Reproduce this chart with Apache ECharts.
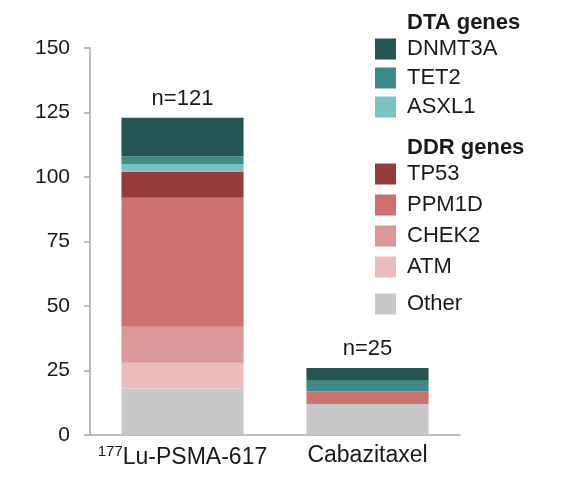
<!DOCTYPE html>
<html>
<head>
<meta charset="utf-8">
<script src="https://cdn.jsdelivr.net/npm/echarts@6/dist/echarts.min.js"></script>
<style>
html,body{margin:0;padding:0;background:#fff;}
#c{width:562px;height:484px;}
</style>
</head>
<body>
<div id="c"></div>
<script>
// Data
var categories = ['177Lu-PSMA-617', 'Cabazitaxel'];
var totalLabels = ['n=121', 'n=25'];
var yTicks = [0, 25, 50, 75, 100, 125, 150];

var other  = [18, 12];
var atm    = [10, 0];
var chek2  = [14, 0];
var ppm1d  = [50, 5];
var tp53   = [10, 0];
var asxl1  = [3, 0];
var tet2   = [3, 4];
var dnmt3a = [15, 5];

var dtaNames = ['DNMT3A', 'TET2', 'ASXL1'];
var ddrNames = ['TP53', 'PPM1D', 'CHEK2', 'ATM'];
var otherNames = ['Other'];

var colors = {
  DNMT3A: '#245553',
  TET2: '#3c8b89',
  ASXL1: '#7bc3c3',
  TP53: '#933c3b',
  PPM1D: '#cc7170',
  CHEK2: '#da9898',
  ATM: '#ebbcbc',
  Other: '#c8c8c8'
};

var stackOrder = [
  ['Other', other], ['ATM', atm], ['CHEK2', chek2], ['PPM1D', ppm1d],
  ['TP53', tp53], ['ASXL1', asxl1], ['TET2', tet2], ['DNMT3A', dnmt3a]
];

var FONT = 'Liberation Sans, Arial, sans-serif';
var TXT = '#1a1a1a';

var series = stackOrder.map(function (s) {
  var o = {
    name: s[0],
    type: 'bar',
    stack: 'total',
    barWidth: '66%',
    data: s[1],
    itemStyle: { color: colors[s[0]] },
    emphasis: { disabled: true }
  };
  if (s[0] === 'DNMT3A') {
    o.label = {
      show: true,
      position: 'top',
      distance: 8,
      fontFamily: FONT,
      fontSize: 22,
      color: TXT,
      formatter: function (p) { return totalLabels[p.dataIndex]; }
    };
  }
  return o;
});

function legendCfg(names, top, gap) {
  return {
    orient: 'vertical',
    left: 375,
    top: top,
    padding: 0,
    itemWidth: 21,
    itemHeight: 21,
    itemGap: gap,
    icon: 'rect',
    selectedMode: false,
    data: names,
    textStyle: { fontFamily: FONT, fontSize: 22, color: TXT, padding: [0, 0, 0, 6] }
  };
}

var chart = echarts.init(document.getElementById('c'), null, { renderer: 'canvas' });
chart.setOption({
  animation: false,
  backgroundColor: '#fff',
  grid: { left: 90, right: 102, top: 48, bottom: 49, containLabel: false },
  legend: [
    legendCfg(dtaNames, 38, 7),
    legendCfg(ddrNames, 163, 9),
    legendCfg(otherNames, 293, 7)
  ],
  graphic: [
    { type: 'text', left: 407, top: 12, style: { text: 'DTA genes', font: 'bold 22px ' + FONT, fill: TXT } },
    { type: 'text', left: 407, top: 137, style: { text: 'DDR genes', font: 'bold 22px ' + FONT, fill: TXT } }
  ],
  xAxis: {
    type: 'category',
    data: categories,
    axisLine: { lineStyle: { color: '#a6a6a6', width: 1.5 } },
    axisTick: { show: false },
    axisLabel: {
      interval: 0,
      hideOverlap: false,
      margin: 9,
      color: TXT,
      fontFamily: FONT,
      formatter: function (v) {
        if (v.indexOf('177') === 0) return '{sup|177}{main|' + v.slice(3) + '}';
        return '{main|' + v + '}';
      },
      rich: {
        sup: { fontSize: 15, fontFamily: FONT, color: TXT, padding: [0, 0, 12, 0] },
        main: { fontSize: 23, fontFamily: FONT, color: TXT }
      }
    }
  },
  yAxis: {
    type: 'value',
    min: yTicks[0],
    max: yTicks[yTicks.length - 1],
    interval: 25,
    axisLine: { show: true, lineStyle: { color: '#a6a6a6', width: 1.5 } },
    axisTick: { show: true, length: 6, lineStyle: { color: '#a6a6a6', width: 1.5 } },
    splitLine: { show: false },
    axisLabel: { margin: 20, color: TXT, fontFamily: FONT, fontSize: 21 }
  },
  series: series
});
</script>
</body>
</html>
